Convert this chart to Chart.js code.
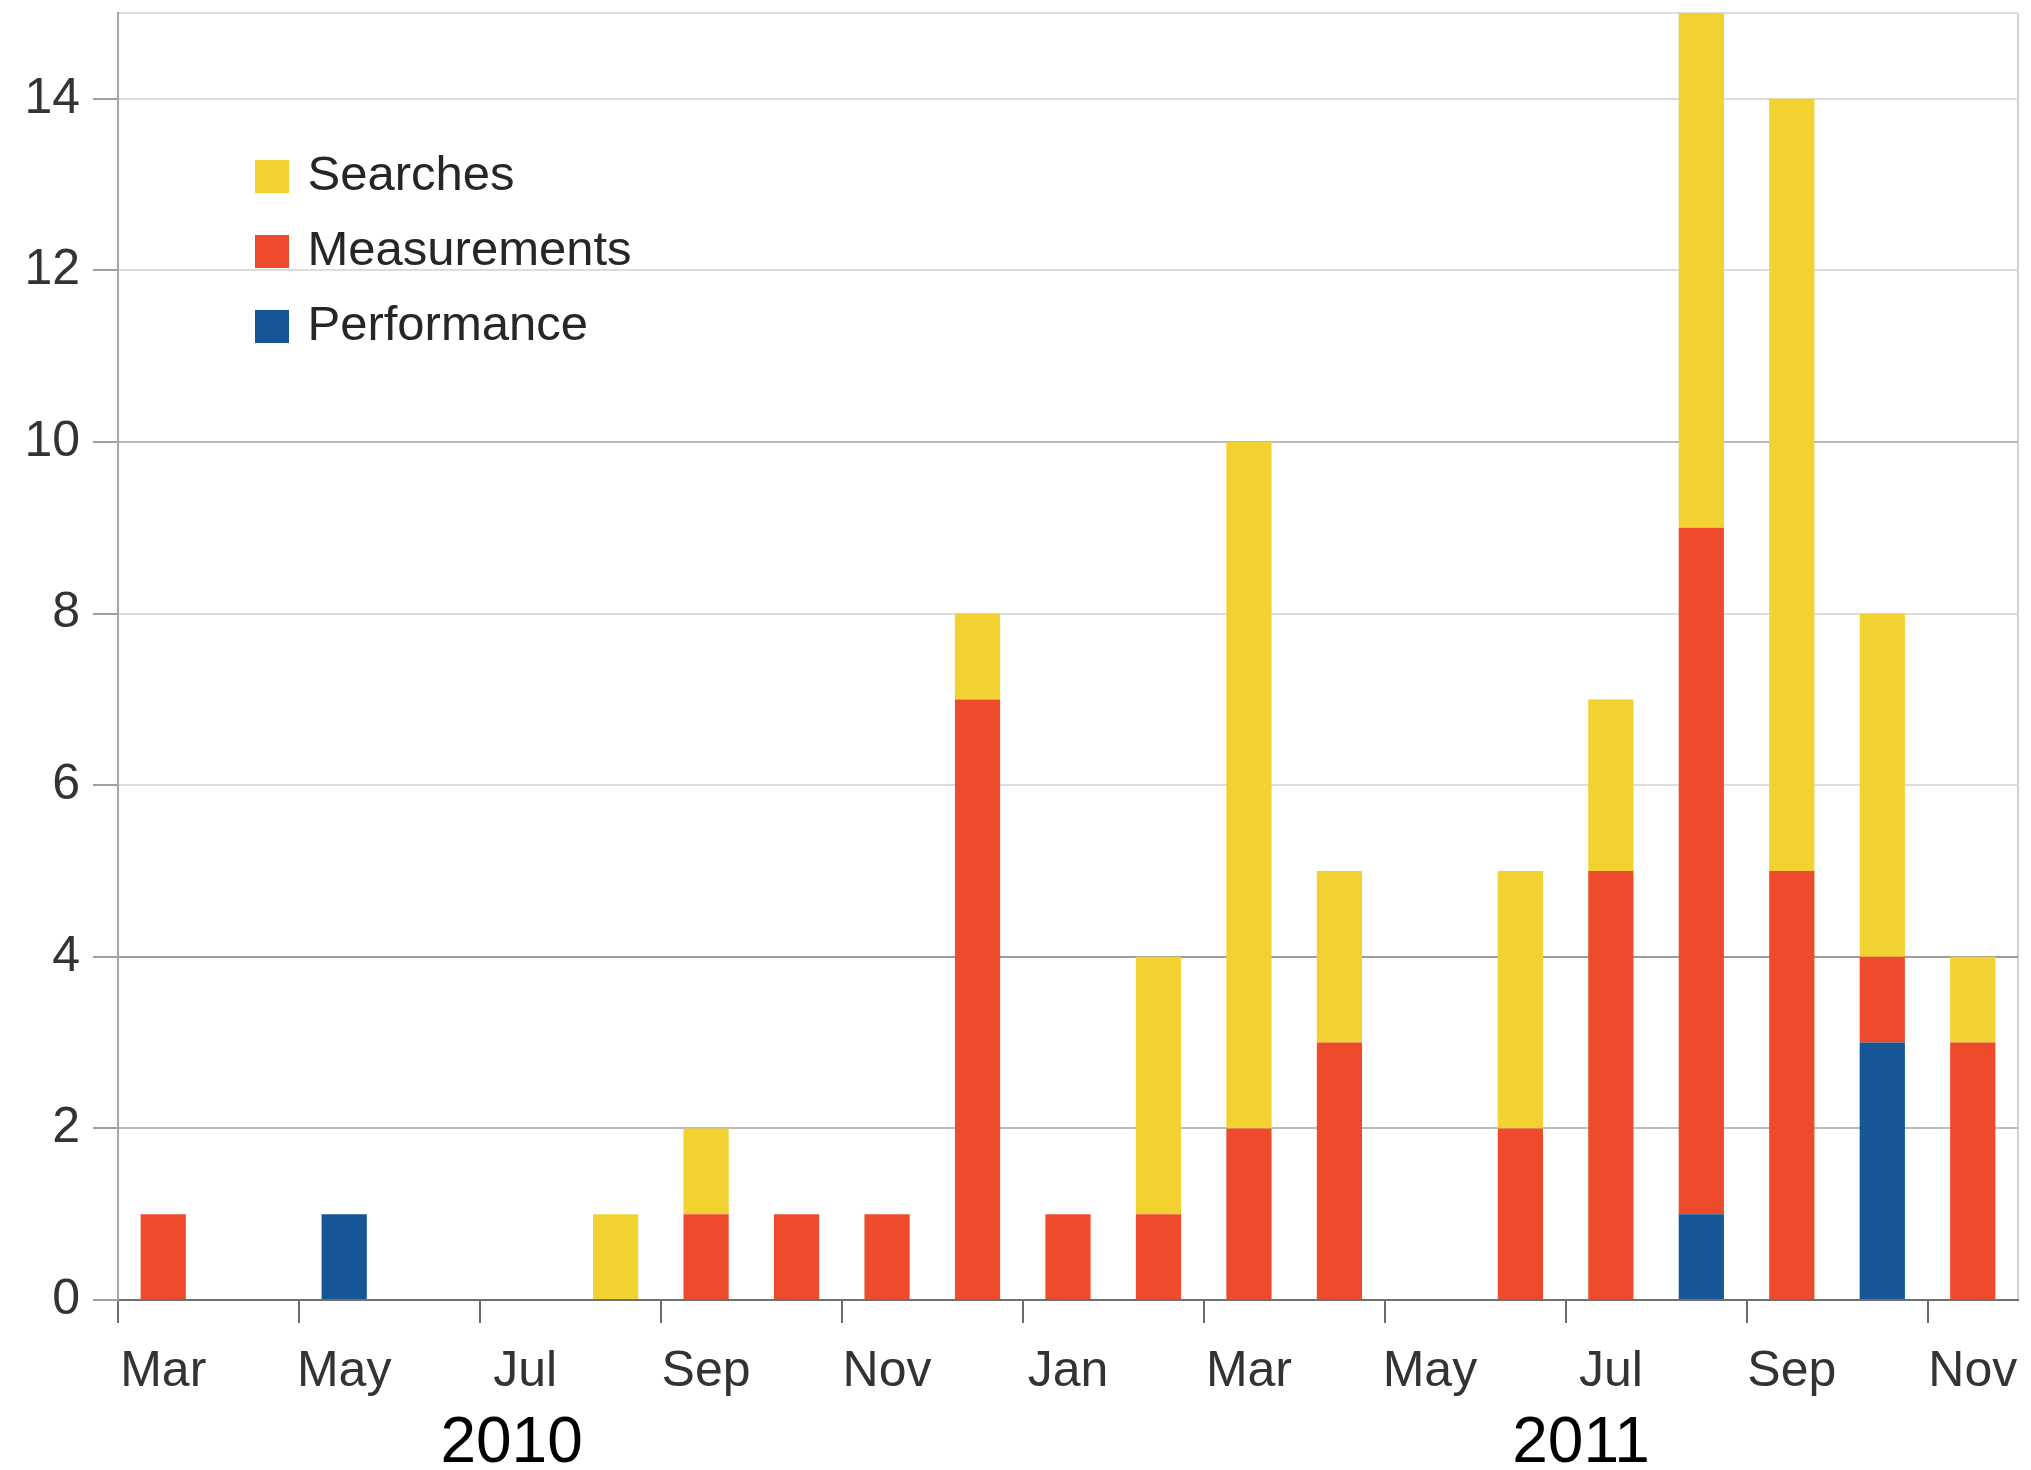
<!DOCTYPE html>
<html>
<head>
<meta charset="utf-8">
<script src="https://cdn.jsdelivr.net/npm/chart.js@4.4.1/dist/chart.umd.min.js"></script>
<style>
  html, body { margin: 0; padding: 0; background: #ffffff; }
  canvas { display: block; }
</style>
</head>
<body>
<canvas id="c" width="2031" height="1470"></canvas>
<script>
// ---- data ----
const months = ['Mar','Apr','May','Jun','Jul','Aug','Sep','Oct','Nov','Dec',
                'Jan','Feb','Mar','Apr','May','Jun','Jul','Aug','Sep','Oct','Nov'];
const performance  = [0,0,1,0,0,0,0,0,0,0, 0,0,0,0,0,0,0,1,0,3,0];
const measurements = [1,0,0,0,0,0,1,1,1,7, 1,1,2,3,0,2,5,8,5,1,3];
const searches     = [0,0,0,0,0,1,1,0,0,1, 0,3,8,2,0,3,2,6,9,4,1];
const yearLabels = ['2010', '2011'];
const yearLabelAt = [3.85, 15.67];   // category-index position of each year caption
const yMax = 15;
const yStep = 2;

const FONT = "'Liberation Sans', Arial, sans-serif";

const legendPlacement = {
  id: 'legendPlacement',
  afterLayout(chart) {
    const lg = chart.legend;
    if (!lg) return;
    const a = chart.chartArea;
    lg.left = a.left + 117;
    lg.top = a.top + 113;
    lg.right = lg.left + lg.width;
    lg.bottom = lg.top + lg.height;
  }
};

new Chart(document.getElementById('c'), {
  type: 'bar',
  data: {
    labels: months,
    datasets: [
      { label: 'Performance',  data: performance,  backgroundColor: '#165697' },
      { label: 'Measurements', data: measurements, backgroundColor: '#EE4B2D' },
      { label: 'Searches',     data: searches,     backgroundColor: '#F1D231' }
    ]
  },
  plugins: [legendPlacement],
  options: {
    responsive: false,
    animation: false,
    devicePixelRatio: 1,
    layout: { padding: { top: 13, right: 13, left: 0, bottom: 0 } },
    datasets: { bar: { barPercentage: 0.5, categoryPercentage: 1.0, borderWidth: 0 } },
    plugins: {
      tooltip: { enabled: false },
      legend: {
        position: 'chartArea',
        align: 'start',
        reverse: true,
        labels: {
          boxWidth: 22,
          boxHeight: 21,
          padding: 26,
          color: '#262626',
          font: { family: FONT, size: 49 },
          generateLabels: (chart) => {
            const items = Chart.defaults.plugins.legend.labels.generateLabels(chart);
            items.forEach(it => { it.lineWidth = 12; it.strokeStyle = it.fillStyle; });
            return items;
          }
        }
      }
    },
    scales: {
      x: {
        type: 'category',
        position: 'bottom',
        stacked: true,
        offset: true,
        weight: 0,
        grid: {
          offset: true,
          drawOnChartArea: true,
          tickLength: 23,
          lineWidth: 2,
          tickWidth: 2,
          color: (ctx) => ctx.index === undefined ? '#d2d2d2' : 'rgba(0,0,0,0)',
          tickColor: (ctx) => (ctx.index !== undefined && ctx.index % 2 === 0) ? '#6a6a6a' : 'rgba(0,0,0,0)'
        },
        border: { display: true, color: '#707070', width: 2 },
        ticks: {
          autoSkip: false,
          maxRotation: 0,
          minRotation: 0,
          padding: 19,
          color: '#333333',
          font: { family: FONT, size: 50 },
          callback: function (value, index) { return index % 2 === 0 ? this.getLabelForValue(value) : ''; }
        },
        afterFit: (s) => { s.height = 100; s.paddingLeft = 0; s.paddingRight = 0; }
      },
      years: {
        type: 'linear',
        position: 'bottom',
        weight: 1,
        offset: false,
        min: -0.5,
        max: months.length - 0.5,
        grid: { display: false, drawTicks: false, offset: false },
        border: { display: false },
        afterBuildTicks: (s) => { s.ticks = yearLabelAt.map(v => ({ value: v })); },
        ticks: {
          autoSkip: false,
          maxRotation: 0,
          padding: 6,
          color: '#000000',
          font: { family: FONT, size: 64 },
          callback: (value) => {
            const i = yearLabelAt.indexOf(value);
            return i >= 0 ? yearLabels[i] : '';
          }
        },
        afterFit: (s) => { s.height = 70; s.paddingLeft = 0; s.paddingRight = 0; }
      },
      y: {
        stacked: true,
        min: 0,
        max: yMax,
        grid: {
          lineWidth: 2,
          tickLength: 25,
          tickWidth: 2,
          color: (ctx) => {
            const v = ctx.tick ? ctx.tick.value : null;
            if (v === 0) return 'rgba(0,0,0,0)';
            if (v === 4) return '#9c9c9c';
            if (v === 2) return '#bcbcbc';
            if (v === 10) return '#b8b8b8';
            return '#dcdcdc';
          },
          tickColor: (ctx) => (ctx.tick && ctx.tick.value === yMax) ? 'rgba(0,0,0,0)' : '#a0a0a0'
        },
        border: { display: true, color: '#a6a6a6', width: 2 },
        ticks: {
          stepSize: yStep,
          padding: 13,
          color: '#333333',
          font: { family: FONT, size: 50 },
          callback: (v) => v === yMax ? '' : String(v)
        },
        afterFit: (s) => { s.width = 118; s.paddingTop = 0; s.paddingBottom = 0; }
      }
    }
  }
});
</script>
</body>
</html>
